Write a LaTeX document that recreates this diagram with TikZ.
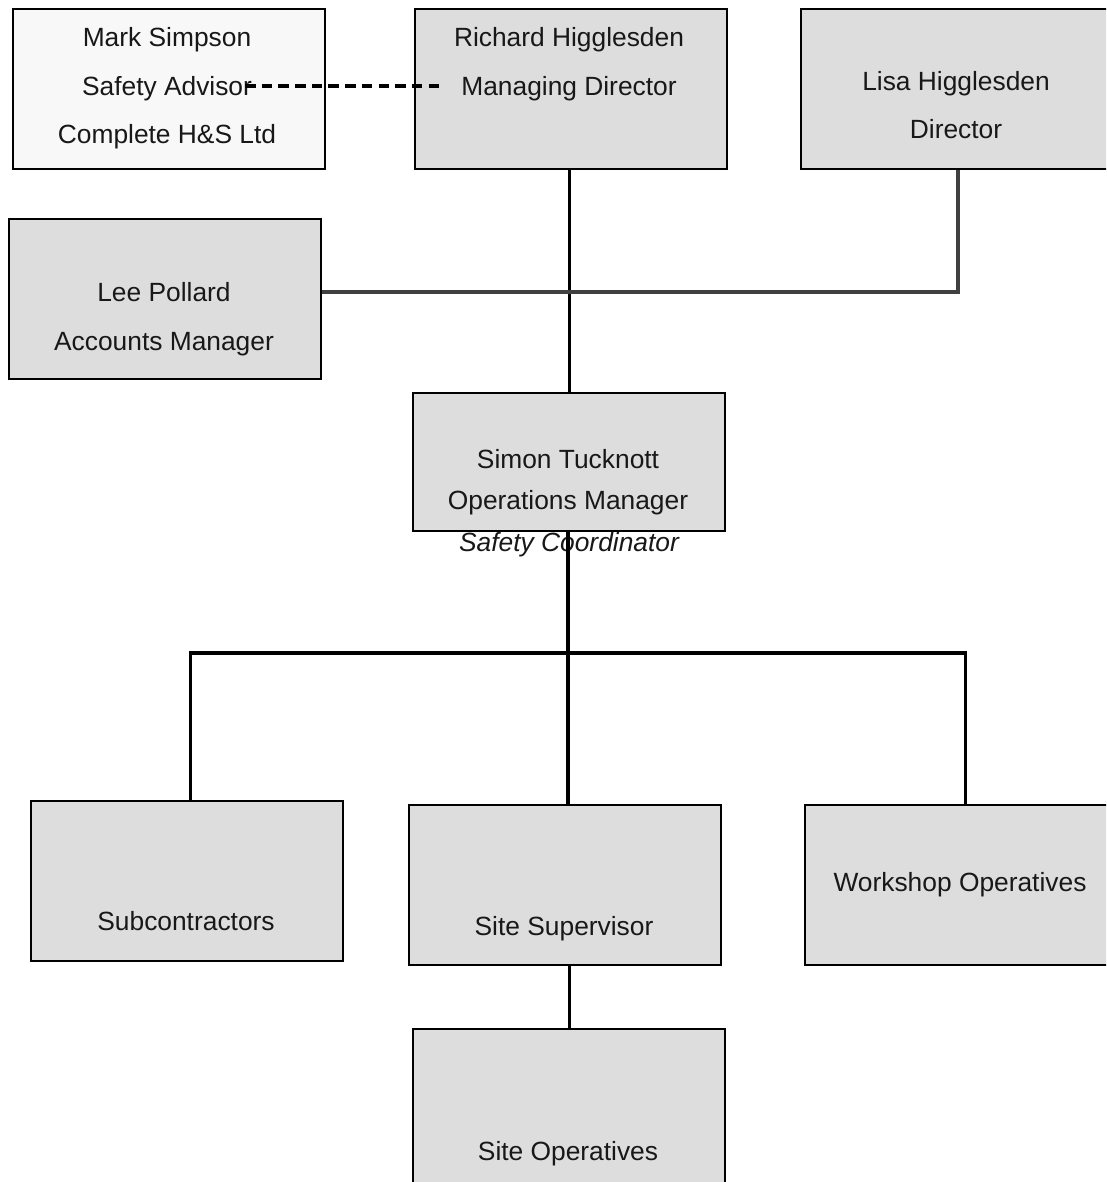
\documentclass[tikz,border=0pt]{standalone}
\usepackage{fontspec}
\setmainfont{Liberation Sans}
\usepackage{tikz}
\usetikzlibrary{positioning}
\definecolor{boxcolor}{RGB}{221,221,221}
\definecolor{advisorcolor}{RGB}{248,248,248}
\definecolor{inkcolor}{RGB}{24,24,24}

\begin{document}
\begin{tikzpicture}[x=0.02cm, y=-0.02cm,
  orgbox/.style={draw, line width=1.3pt, fill=boxcolor, anchor=north west, inner sep=0pt, minimum width=6.24cm, minimum height=3.2cm},
  orgtext/.style={anchor=base, text=inkcolor, font=\fontsize{15}{18}\selectfont},
  orgline/.style={line width=1.8pt}]
  \useasboundingbox (0,0) rectangle (1106,1182);
  \clip (0,0) rectangle (1106,1182);
  % safety advisor
  \node[orgbox, fill=advisorcolor] (mark) at (12,8) {};
  \node[orgtext] (marka) at (167,47) {Mark Simpson};
  \node[orgtext] (markb) at (167,96) {Safety Advisor};
  \node[orgtext] (markc) at (167,144) {Complete H\&S Ltd};
  % managing director
  \node[orgbox] (richard) at (414,8) {};
  \node[orgtext] (richarda) at (569,47) {Richard Higglesden};
  \node[orgtext] (richardb) at (569,96) {Managing Director};
  % director
  \node[orgbox] (lisa) at (800,8) {};
  \node[orgtext] (lisaa) at (956,91) {Lisa Higglesden};
  \node[orgtext] (lisab) at (956,139) {Director};
  % accounts
  \node[orgbox] (lee) at (8,218) {};
  \node[orgtext] (leea) at (164,301) {Lee Pollard};
  \node[orgtext] (leeb) at (164,350) {Accounts Manager};
  % operations
  \node[orgbox, minimum height=2.76cm] (simon) at (412,392) {};
  \node[orgtext] (simona) at (568,468) {Simon Tucknott};
  \node[orgtext] (simonb) at (568,509) {Operations Manager};
  \node[orgtext, font=\fontsize{15}{18}\selectfont\itshape] (simonc) at (569,551) {Safety Coordinator};
  % bottom row
  \node[orgbox] (subs) at (30,800) {};
  \node[orgtext] (subsa) at (186,930) {Subcontractors};
  \node[orgbox] (super) at (408,804) {};
  \node[orgtext] (supera) at (564,935) {Site Supervisor};
  \node[orgbox] (workshop) at (804,804) {};
  \node[orgtext] (workshopa) at (960,891) {Workshop Operatives};
  \node[orgbox] (siteops) at (412,1028) {};
  \node[orgtext] (siteopsa) at (568,1160) {Site Operatives};
  % lines
  \coordinate (dashfrom) at (245,86);
  \coordinate (dashto) at (440,86);
  \draw[line width=1.8pt, dash pattern=on 6pt off 3.5pt] (dashfrom) -- (dashto);
  \draw[orgline] (simon.north |- richard.south) -- (simon.north);
  \coordinate (lisajoin) at (958,292);
  \draw[orgline, black!75] (lee.east |- lisajoin) -- (lisajoin) -- (lisajoin |- lisa.south);
  \coordinate (bus) at (568,653);
  \draw[orgline] (bus |- simon.south) -- (bus);
  \draw[orgline] ([xshift=0.06cm]subs.north) |- (bus) -| ([xshift=0.08cm]workshop.north);
  \draw[orgline] (bus |- super.north) -- (bus);
  \draw[orgline] (siteops.north |- super.south) -- (siteops.north);
\end{tikzpicture}
\end{document}
